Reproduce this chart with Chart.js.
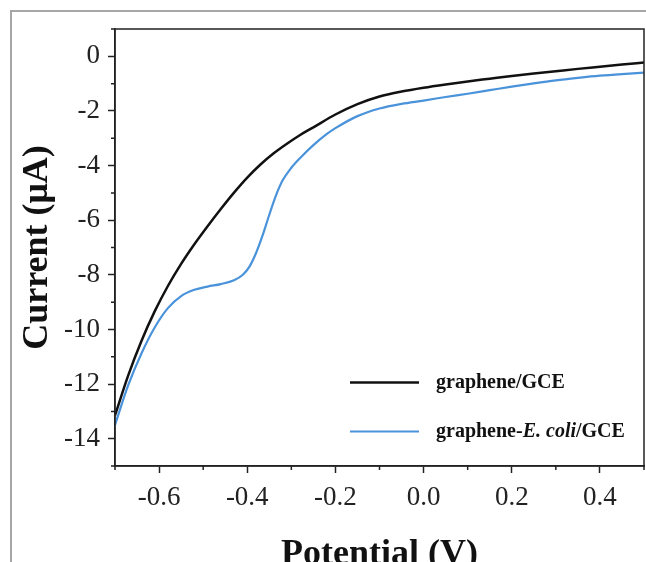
<!DOCTYPE html>
<html>
<head>
<meta charset="utf-8">
<script src="https://cdn.jsdelivr.net/npm/chart.js@4/dist/chart.umd.min.js"></script>
<style>
  html, body { margin: 0; padding: 0; background: #fff; }
  #wrap { position: relative; width: 646px; height: 562px; overflow: hidden; }
  #frame { position: absolute; left: 10px; top: 10px; width: 700px; height: 600px;
           border-left: 2px solid #a6a6a6; border-top: 2px solid #a6a6a6; }
  canvas { position: absolute; left: 0; top: 0; }
</style>
</head>
<body>
<div id="wrap">
  <div id="frame"></div>
  <canvas id="chart" width="646" height="562"></canvas>
</div>
<script>
// graphene/GCE
const grapheneV = [-0.70, -0.67, -0.64, -0.61, -0.58, -0.55, -0.52, -0.49, -0.46, -0.43, -0.40, -0.37, -0.34, -0.31, -0.28, -0.25, -0.20, -0.15, -0.10, -0.05, 0.00, 0.05, 0.10, 0.15, 0.20, 0.25, 0.30, 0.35, 0.40, 0.45, 0.50];
const grapheneI = [-13.15, -11.68, -10.42, -9.34, -8.41, -7.60, -6.88, -6.22, -5.59, -4.99, -4.44, -3.96, -3.55, -3.20, -2.88, -2.60, -2.13, -1.75, -1.47, -1.29, -1.15, -1.03, -0.92, -0.82, -0.72, -0.63, -0.545, -0.46, -0.38, -0.30, -0.23];

// graphene-E. coli/GCE
const ecoliV = [-0.70, -0.67, -0.64, -0.61, -0.58, -0.55, -0.52, -0.49, -0.46, -0.43, -0.41, -0.395, -0.38, -0.365, -0.35, -0.335, -0.32, -0.30, -0.28, -0.25, -0.22, -0.20, -0.15, -0.10, -0.05, 0.00, 0.05, 0.10, 0.15, 0.20, 0.25, 0.30, 0.35, 0.40, 0.45, 0.50];
const ecoliI = [-13.5, -12.04, -10.88, -9.93, -9.22, -8.78, -8.55, -8.43, -8.34, -8.2, -8.0, -7.7, -7.2, -6.55, -5.8, -5.1, -4.55, -4.08, -3.72, -3.25, -2.85, -2.63, -2.19, -1.91, -1.74, -1.62, -1.49, -1.37, -1.24, -1.11, -0.99, -0.88, -0.79, -0.71, -0.65, -0.60];

const seriesLabels = ['graphene/GCE', 'graphene-E. coli/GCE'];
const xTicks = [-0.6, -0.4, -0.2, 0.0, 0.2, 0.4];
const xMinorTicks = [-0.7, -0.5, -0.3, -0.1, 0.1, 0.3, 0.5];
const yTicks = [-14, -12, -10, -8, -6, -4, -2, 0];
const yMinorTicks = [-15, -13, -11, -9, -7, -5, -3, -1, 1];

const axisColor = '#222';
const serif = "'Liberation Serif', 'Times New Roman', serif";

const toPoints = (xs, ys) => xs.map((x, i) => ({ x: x, y: ys[i] }));

// box, minor ticks and legend
const extras = {
  id: 'extras',
  afterDraw(chart) {
    const ctx = chart.ctx;
    const area = chart.chartArea;
    const xs = chart.scales.x;
    const ys = chart.scales.y;
    ctx.save();
    ctx.strokeStyle = axisColor;
    ctx.lineWidth = 1.5;
    ctx.strokeRect(area.left, area.top, area.right - area.left, area.bottom - area.top);

    // minor ticks, outside
    ctx.beginPath();
    xMinorTicks.forEach(v => {
      const px = xs.getPixelForValue(v);
      ctx.moveTo(px, area.bottom);
      ctx.lineTo(px, area.bottom + 4);
    });
    yMinorTicks.forEach(v => {
      const py = ys.getPixelForValue(v);
      ctx.moveTo(area.left, py);
      ctx.lineTo(area.left - 4, py);
    });
    ctx.stroke();

    // legend
    const lx = 350, tx = 436;
    const rows = [382.5, 431.5];
    chart.data.datasets.forEach((ds, i) => {
      const y = rows[i];
      ctx.strokeStyle = ds.borderColor;
      ctx.lineWidth = ds.borderWidth;
      ctx.beginPath();
      ctx.moveTo(lx, y);
      ctx.lineTo(lx + 69, y);
      ctx.stroke();
      ctx.fillStyle = '#111';
      ctx.textBaseline = 'middle';
      ctx.textAlign = 'left';
      if (i === 0) {
        ctx.font = 'bold 20px ' + serif;
        ctx.fillText(ds.label, tx, y);
      } else {
        let x = tx;
        const parts = [['graphene-', 'bold'], ['E. coli', 'italic bold'], ['/GCE', 'bold']];
        parts.forEach(([t, f]) => {
          ctx.font = f + ' 20px ' + serif;
          ctx.fillText(t, x, y);
          x += ctx.measureText(t).width;
        });
      }
    });
    ctx.restore();
  }
};

new Chart(document.getElementById('chart'), {
  type: 'scatter',
  data: {
    datasets: [
      {
        label: seriesLabels[0],
        data: toPoints(grapheneV, grapheneI),
        showLine: true,
        borderColor: '#111',
        borderWidth: 2.5,
        pointRadius: 0,
        cubicInterpolationMode: 'monotone'
      },
      {
        label: seriesLabels[1],
        data: toPoints(ecoliV, ecoliI),
        showLine: true,
        borderColor: '#4a93db',
        borderWidth: 2.2,
        pointRadius: 0,
        cubicInterpolationMode: 'monotone'
      }
    ]
  },
  options: {
    responsive: false,
    animation: false,
    layout: { padding: { left: 0, right: 2, top: 29, bottom: 0 } },
    plugins: {
      legend: { display: false },
      tooltip: { enabled: false }
    },
    scales: {
      x: {
        type: 'linear',
        min: -0.7,
        max: 0.5,
        afterBuildTicks: (scale) => { scale.ticks = xTicks.map(v => ({ value: v })); },
        afterFit: (scale) => { scale.height = 96; },
        border: { display: true, color: axisColor, width: 1.5 },
        grid: { drawOnChartArea: false, drawTicks: true, tickLength: 7, tickWidth: 1.5, tickColor: axisColor },
        ticks: {
          color: '#222',
          padding: 9,
          maxRotation: 0,
          font: { family: serif, size: 27 },
          callback: (v) => Number(v).toFixed(1)
        },
        title: {
          display: true,
          text: 'Potential (V)',
          color: '#111',
          padding: 0,
          font: { family: serif, size: 36, weight: 'bold', lineHeight: 0.4 }
        }
      },
      y: {
        type: 'linear',
        min: -15,
        max: 1,
        afterBuildTicks: (scale) => { scale.ticks = yTicks.map(v => ({ value: v })); },
        afterFit: (scale) => { scale.width = 115; },
        border: { display: true, color: axisColor, width: 1.5 },
        grid: { drawOnChartArea: false, drawTicks: true, tickLength: 7, tickWidth: 1.5, tickColor: axisColor },
        ticks: {
          color: '#222',
          padding: 8,
          font: { family: serif, size: 27 },
          callback: (v) => String(v)
        },
        title: {
          display: true,
          text: 'Current (\u03bcA)',
          color: '#111',
          padding: { top: 16, bottom: 0 },
          font: { family: serif, size: 36, weight: 'bold' }
        }
      }
    }
  },
  plugins: [extras]
});
</script>
</body>
</html>
